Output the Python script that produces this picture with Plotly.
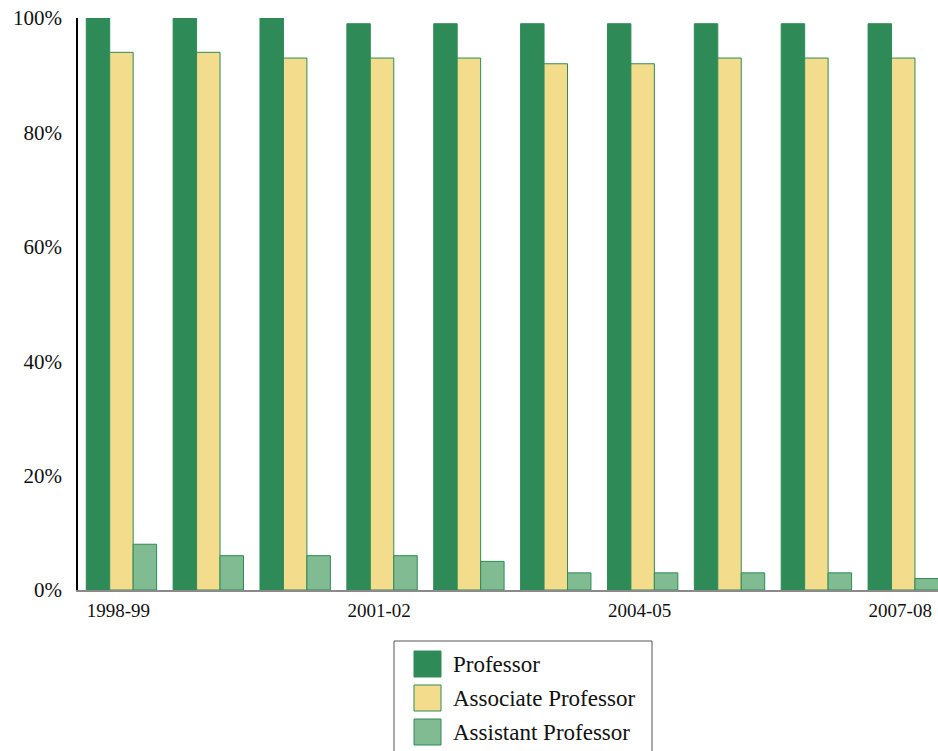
import plotly.graph_objects as go

years = ["1998-99", "1999-00", "2000-01", "2001-02", "2002-03",
         "2003-04", "2004-05", "2005-06", "2006-07", "2007-08"]
professor = [100, 100, 100, 99, 99, 99, 99, 99, 99, 99]
associate = [94, 94, 93, 93, 93, 92, 92, 93, 93, 93]
assistant = [8, 6, 6, 6, 5, 3, 3, 3, 3, 2]
x_tick_labels = ["1998-99", "2001-02", "2004-05", "2007-08"]
y_tick_vals = [0, 20, 40, 60, 80, 100]
y_tick_text = ["0%", "20%", "40%", "60%", "80%", "100%"]

series_names = ["Professor", "Associate Professor", "Assistant Professor"]
fills = ["#2E8B57", "#F3DD8D", "#80BB91"]
edges = ["#2E8B57", "#2E8B57", "#2E8B57"]
series = [professor, associate, assistant]

FONT = "Liberation Serif"
W, H = 938, 751
ML, MR, MT, MB = 78, 0, 18, 161
plot_w = W - ML - MR
plot_h = H - MT - MB

fig = go.Figure()
for name, vals, fc, ec in zip(series_names, series, fills, edges):
    fig.add_trace(go.Bar(x=years, y=vals, name=name,
                         marker=dict(color=fc, line=dict(color=ec, width=1)),
                         showlegend=False))

def px_to_paper_x(px):
    return (px - ML) / plot_w

def px_to_paper_y(py):
    return (H - MB - py) / plot_h

shapes = []
annotations = []
shapes.append(dict(type="rect", xref="paper", yref="paper",
                   x0=px_to_paper_x(394), x1=px_to_paper_x(652),
                   y0=px_to_paper_y(770), y1=px_to_paper_y(641),
                   line=dict(color="#555555", width=1), fillcolor="rgba(0,0,0,0)"))
sw_tops = [651, 685, 719]
for name, top, fc, ec in zip(series_names, sw_tops, fills, edges):
    shapes.append(dict(type="rect", xref="paper", yref="paper",
                       x0=px_to_paper_x(414), x1=px_to_paper_x(441),
                       y0=px_to_paper_y(top + 26), y1=px_to_paper_y(top),
                       line=dict(color=ec, width=1), fillcolor=fc))
    annotations.append(dict(xref="paper", yref="paper", x=px_to_paper_x(451),
                            y=px_to_paper_y(top + 13), text=name, showarrow=False,
                            xanchor="left", yanchor="middle",
                            font=dict(family=FONT, size=23, color="#111111")))

fig.update_layout(
    width=W, height=H,
    margin=dict(l=ML, r=MR, t=MT, b=MB),
    paper_bgcolor="white", plot_bgcolor="white",
    barmode="group", bargap=0.19, bargroupgap=0,
    shapes=shapes, annotations=annotations,
    xaxis=dict(type="category", range=[-0.5, 9.4], tickmode="array",
               tickvals=x_tick_labels, ticktext=x_tick_labels,
               showline=True, linecolor="#8a8a8a", linewidth=2,
               showgrid=False, ticks="", ticklabelstandoff=2, ticklabelshift=-3,
               ticklabeloverflow="allow",
               tickfont=dict(family=FONT, size=19, color="#111111")),
    yaxis=dict(range=[0, 100], tickmode="array", tickvals=y_tick_vals, ticktext=y_tick_text,
               showline=True, linecolor="#000000", linewidth=1.5,
               showgrid=False, zeroline=False, ticks="", ticklabelstandoff=10,
               ticklabeloverflow="allow",
               tickfont=dict(family=FONT, size=21, color="#111111")),
)

fig.write_html(
    "out.html",
    config={"displayModeBar": False},
    post_script="document.body.style.margin='0';document.body.style.overflow='hidden';",
)
